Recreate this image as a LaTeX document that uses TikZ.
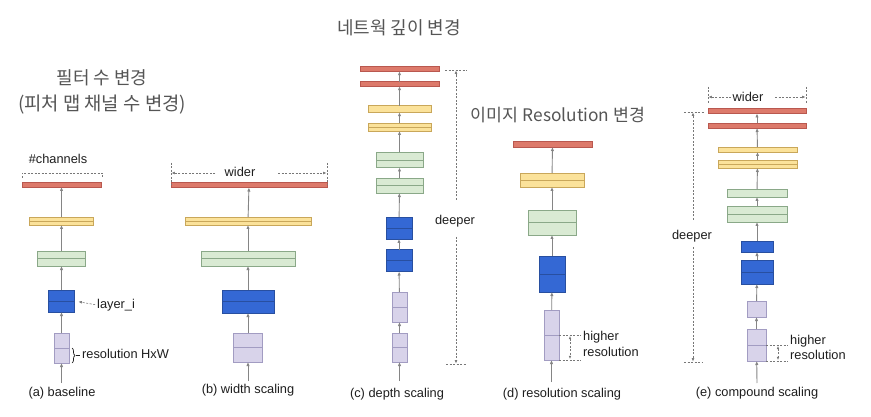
\documentclass[tikz,border=0pt]{standalone}
\usepackage{fontspec}
\setmainfont{Liberation Sans}
\newfontfamily\krfont{Noto Sans CJK KR}
\usetikzlibrary{arrows.meta,decorations.pathreplacing}
\definecolor{redf}{HTML}{DD7A6B}\definecolor{redd}{HTML}{B9584F}
\definecolor{yelf}{HTML}{FBE29A}\definecolor{yeld}{HTML}{C9A75A}
\definecolor{grnf}{HTML}{D9EAD3}\definecolor{grnd}{HTML}{8AA888}
\definecolor{bluf}{HTML}{3468D4}\definecolor{blud}{HTML}{284FA0}
\definecolor{purf}{HTML}{D8D3EA}\definecolor{purd}{HTML}{A29CC2}
\definecolor{arrc}{HTML}{858585}
\definecolor{anc}{HTML}{777777}
\definecolor{krc}{HTML}{555555}
\definecolor{txc}{HTML}{1E1E1E}
\tikzset{
  lay/.style={draw, line width=0.7pt, inner sep=0pt, outer sep=0pt},
  rbar/.style={lay, fill=redf, draw=redd},
  ybar/.style={lay, fill=yelf, draw=yeld},
  gbar/.style={lay, fill=grnf, draw=grnd},
  bbar/.style={lay, fill=bluf, draw=blud},
  pbar/.style={lay, fill=purf, draw=purd},
  midl/.style={path picture={\draw[line width=0.8pt,#1] (path picture bounding box.west) -- (path picture bounding box.east);}},
  sz/.style 2 args={minimum width=#1, minimum height=#2},
  arr/.style={draw=arrc, line width=0.9pt, -{Latex[length=4pt,width=3.4pt]}},
  ann/.style={draw=anc, line width=0.6pt, dash pattern=on 2pt off 1.5pt},
  anarr/.style={ann, -{Latex[length=3.4pt,width=2.8pt]}},
  andbl/.style={ann, {Latex[length=3.2pt,width=2.6pt]}-{Latex[length=3.2pt,width=2.6pt]}},
  lbl/.style={font=\fontsize{12.8}{14}\selectfont, text=txc, inner sep=0pt},
  krt/.style={font=\krfont\fontsize{18}{21}\selectfont, text=krc, inner sep=0pt},
}
\begin{document}
\begin{tikzpicture}[x=1pt,y=-1pt]
\useasboundingbox (0,0) rectangle (871,417);
\fill[white] (0,0) rectangle (871,417);

% titles
\node[krt] (t1) at (102,78) {필터 수 변경};
\node[krt, font=\krfont\fontsize{18.8}{21}\selectfont] (t2) at (102,105) {(피처 맵 채널 수 변경)};
\node[krt] (t3) at (399,28) {네트웍 깊이 변경};
\node[krt, font=\krfont\fontsize{17.3}{21}\selectfont] (t4) at (558,115) {이미지 Resolution 변경};

% ---------- (a) baseline
\node[rbar, sz={79pt}{5pt}] (a5) at (61.5,184.5) {};
\node[ybar, midl=yeld, sz={64pt}{8pt}] (a4) at (61.5,221) {};
\node[gbar, midl=grnd, sz={48pt}{15pt}] (a3) at (61.5,258.5) {};
\node[bbar, midl=blud, sz={26pt}{22pt}] (a2) at (61.5,301) {};
\node[pbar, midl=purd, sz={15pt}{30pt}] (a1) at (61.5,348) {};
\coordinate (a0) at (61.5,383);
\draw[arr] (a0) -- (a1);
\draw[arr] (a1) -- (a2);
\draw[arr] (a2) -- (a3);
\draw[arr] (a3) -- (a4);
\draw[arr] (a4) -- (a5);
\node[lbl] (ach) at (58,159) {\#channels};
\draw[ann] (22,178) -- (22,173) -- (102,173) -- (102,178);
\node[lbl, anchor=west] (ali) at (97,305) {layer\_i};
\draw[anarr, shorten <=2pt, shorten >=4pt] (ali.west) -- (a2.east);
\draw[draw=txc, line width=0.7pt, decorate, decoration={brace, amplitude=3pt}] (72,348) -- (72,363);
\draw[draw=txc, line width=0.7pt] (75.5,355.5) -- (80,355.5);
\node[lbl, anchor=west] (ares) at (82,354) {resolution HxW};
\node[lbl] (la) at (62,393) {(a) baseline};

% ---------- (b) width scaling
\node[rbar, sz={156pt}{5pt}] (b5) at (249,185) {};
\node[ybar, midl=yeld, sz={126pt}{8pt}] (b4) at (248,221) {};
\node[gbar, midl=grnd, sz={94pt}{15pt}] (b3) at (248,258.5) {};
\node[bbar, midl=blud, sz={52pt}{23pt}] (b2) at (248,301.5) {};
\node[pbar, midl=purd, sz={29pt}{29pt}] (b1) at (248,347.5) {};
\coordinate (b0) at (248,381);
\draw[arr] (b0) -- (b1);
\draw[arr] (b1) -- (b2);
\draw[arr] (b2) -- (b3);
\draw[arr] (b3) -- (b4);
\draw[arr] (b4) -- (b5);
\node[lbl] (bw) at (240,172) {wider};
\draw[ann] (171,163) -- (171,185);
\draw[ann] (327,163) -- (327,185);
\draw[anarr] (215,173) -- (171.5,173);
\draw[anarr] (278,173) -- (326.5,173);
\node[lbl] (lb) at (248,390) {(b) width scaling};

% ---------- (c) depth scaling
\node[rbar, sz={79pt}{4.5pt}] (c10) at (399.5,69) {};
\node[rbar, sz={79pt}{4.5pt}] (c9) at (399.5,84) {};
\node[ybar, sz={63pt}{6.5pt}] (c8) at (399.5,109) {};
\node[ybar, midl=yeld, sz={63pt}{8pt}] (c7) at (399.5,127) {};
\node[gbar, midl=grnd, sz={47pt}{15pt}] (c6) at (399.5,160) {};
\node[gbar, midl=grnd, sz={47pt}{15pt}] (c5) at (399.5,185.5) {};
\node[bbar, midl=blud, sz={26pt}{22pt}] (c4) at (399,228) {};
\node[bbar, midl=blud, sz={26pt}{22pt}] (c3) at (399,260.5) {};
\node[pbar, midl=purd, sz={15pt}{30pt}] (c2) at (399.5,307) {};
\node[pbar, midl=purd, sz={15pt}{29pt}] (c1) at (399.5,347.5) {};
\coordinate (c0) at (399.5,381);
\draw[arr] (c0) -- (c1);
\draw[arr] (c1) -- (c2);
\draw[arr] (c2) -- (c3);
\draw[arr] (c3) -- (c4);
\draw[arr] (c4) -- (c5);
\draw[arr] (c5) -- (c6);
\draw[arr] (c6) -- (c7);
\draw[arr] (c7) -- (c8);
\draw[arr] (c8) -- (c9);
\draw[arr] (c9) -- (c10);
\node[lbl] (cd) at (455,221) {deeper};
\draw[ann] (445,70) -- (467,70);
\draw[ann] (446,364) -- (467,364);
\draw[anarr] (456,200) -- (456,70.5);
\draw[anarr] (456,237) -- (456,363.5);
\node[lbl] (lc) at (397,394) {(c) depth scaling};

% ---------- (d) resolution scaling
\node[rbar, sz={79pt}{6pt}] (d5) at (552.5,144) {};
\node[ybar, midl=yeld, sz={64pt}{14pt}] (d4) at (552,180) {};
\node[gbar, midl=grnd, sz={48pt}{25pt}] (d3) at (552,222.5) {};
\node[bbar, midl=blud, sz={26pt}{36pt}] (d2) at (552,274) {};
\node[pbar, midl=purd, sz={15pt}{50pt}] (d1) at (551.5,335) {};
\coordinate (d0) at (551.5,382);
\draw[arr] (d0) -- (d1);
\draw[arr] (d1) -- (d2);
\draw[arr] (d2) -- (d3);
\draw[arr] (d3) -- (d4);
\draw[arr] (d4) -- (d5);
\draw[ann] (559,335) -- (581,335);
\draw[ann] (559,360) -- (581,360);
\draw[andbl] (570,336) -- (570,359);
\node[lbl, anchor=west] (dh) at (583,337) {higher};
\node[lbl, anchor=west] (dr) at (583,352) {resolution};
\node[lbl] (ld) at (562,394) {(d) resolution scaling};

% ---------- (e) compound scaling
\node[rbar, sz={98pt}{5pt}] (e10) at (757,111) {};
\node[rbar, sz={98pt}{5pt}] (e9) at (757,125.5) {};
\node[ybar, sz={79pt}{5pt}] (e8) at (757.5,149.5) {};
\node[ybar, midl=yeld, sz={79pt}{8pt}] (e7) at (757.5,164) {};
\node[gbar, sz={60pt}{8pt}] (e6) at (757,193) {};
\node[gbar, midl=grnd, sz={60pt}{16pt}] (e5) at (757,214) {};
\node[bbar, sz={32pt}{11pt}] (e4) at (757,246.5) {};
\node[bbar, midl=blud, sz={32pt}{24pt}] (e3) at (757,272) {};
\node[pbar, sz={19pt}{16pt}] (e2) at (756.5,309) {};
\node[pbar, midl=purd, sz={19pt}{32pt}] (e1) at (756.5,345) {};
\coordinate (e0) at (757,383);
\draw[arr] (e0) -- (e1);
\draw[arr] (e1) -- (e2);
\draw[arr] (e2) -- (e3);
\draw[arr] (e3) -- (e4);
\draw[arr] (e4) -- (e5);
\draw[arr] (e5) -- (e6);
\draw[arr] (e6) -- (e7);
\draw[arr] (e7) -- (e8);
\draw[arr] (e8) -- (e9);
\draw[arr] (e9) -- (e10);
\node[lbl] (ew) at (748,97) {wider};
\draw[ann] (708,87) -- (708,104);
\draw[ann] (806,87) -- (806,104);
\draw[anarr] (731,97) -- (708.5,97);
\draw[anarr] (775,97) -- (805.5,97);
\node[lbl] (ed) at (692,236) {deeper};
\draw[ann] (684,112) -- (704,112);
\draw[ann] (684,362) -- (703,362);
\draw[anarr] (693,220) -- (693,112.5);
\draw[anarr] (693,247) -- (693,361.5);
\draw[ann] (766,345) -- (788,345);
\draw[ann] (766,361) -- (788,361);
\draw[andbl] (778,346) -- (778,360);
\node[lbl, anchor=west] (eh) at (790,341) {higher};
\node[lbl, anchor=west] (er) at (790,355) {resolution};
\node[lbl] (le) at (757,393) {(e) compound scaling};
\end{tikzpicture}
\end{document}
